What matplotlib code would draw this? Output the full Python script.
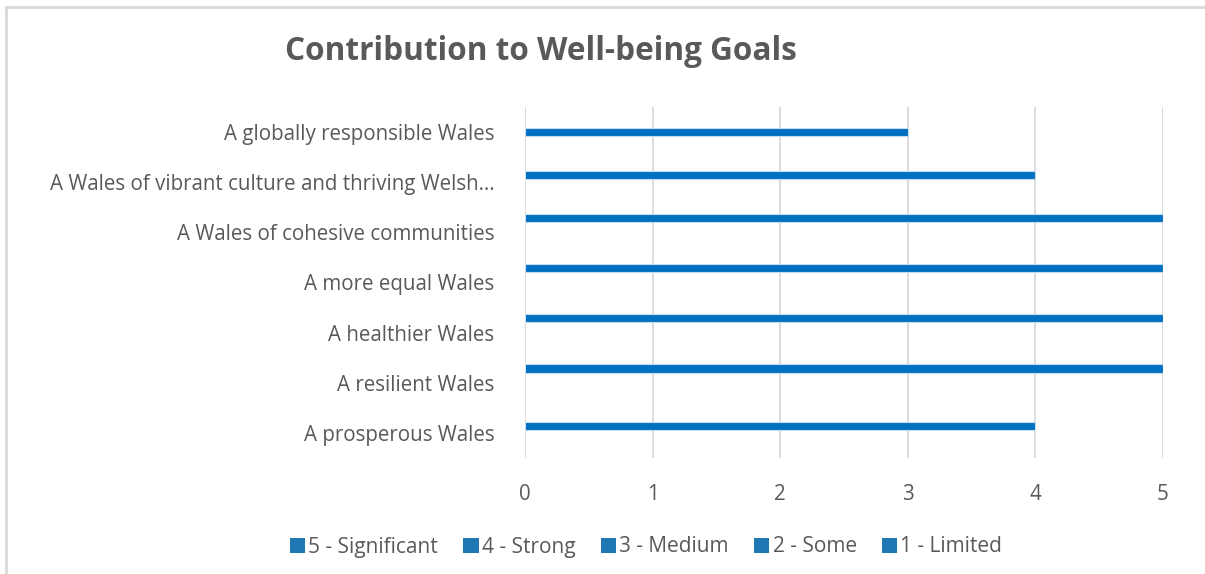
import numpy as np
import matplotlib.pyplot as plt
from matplotlib.lines import Line2D

plt.rcParams['font.family'] = ['Open Sans', 'DejaVu Sans']

goals = ["A prosperous Wales", "A resilient Wales", "A healthier Wales",
         "A more equal Wales", "A Wales of cohesive communities",
         "A Wales of vibrant culture and thriving Welsh\u2026",
         "A globally responsible Wales"]
scores = [4, 5, 5, 5, 5, 4, 3]
series = ["5 - Significant", "4 - Strong", "3 - Medium", "2 - Some", "1 - Limited"]
series_level = [5, 4, 3, 2, 1]

blue = "#0070C0"
grey = "#595959"

fig = plt.figure(figsize=(12.05, 5.74), dpi=100)
# chart border
fig.add_artist(Line2D([6/1205, 6/1205], [0, 1-6.5/574], color="#d9d9d9", lw=2))
fig.add_artist(Line2D([6/1205, 1], [1-6.5/574, 1-6.5/574], color="#d9d9d9", lw=2))

ax = fig.add_axes([525/1205, 1-458/574, 638/1205, 351.3/574])

slot = 0.142
y = np.arange(len(goals))
# each goal sits in the series of its own score; series 5 on top of the cluster
for name, lvl in zip(series, series_level):
    off = (lvl - 3) * slot
    for i, s in enumerate(scores):
        if s == lvl:
            ax.barh(y[i] + off, s, height=0.165, color=blue,
                    edgecolor="#c5dcf0", linewidth=0.8, zorder=3)
    ax.barh([], [], color=blue, label=name)

ax.set_xlim(0, 5)
ax.set_ylim(-0.5, 6.5)
ax.set_xticks(range(6))
ax.set_yticks(y)
ax.set_yticklabels(goals)
ax.xaxis.grid(True, color="#d9d9d9", lw=1.3, zorder=0)
for sp in ax.spines.values():
    sp.set_visible(False)
ax.tick_params(length=0, labelsize=14.8, colors=grey)
ax.tick_params(axis='x', pad=19)
ax.tick_params(axis='y', pad=22)

fig.text(285/1205, 1-51/574, "Contribution to Well-being Goals", fontsize=22.7,
         fontweight="bold", color=grey, va="center", ha="left")

leg = fig.legend(loc="center", bbox_to_anchor=(646/1205, 1-547/574), ncol=5,
                 frameon=False, fontsize=15, handlelength=0.75, handleheight=0.75,
                 handletextpad=0.15, columnspacing=1.2)
for t in leg.get_texts():
    t.set_color(grey)

plt.savefig("out.png", dpi=100)
